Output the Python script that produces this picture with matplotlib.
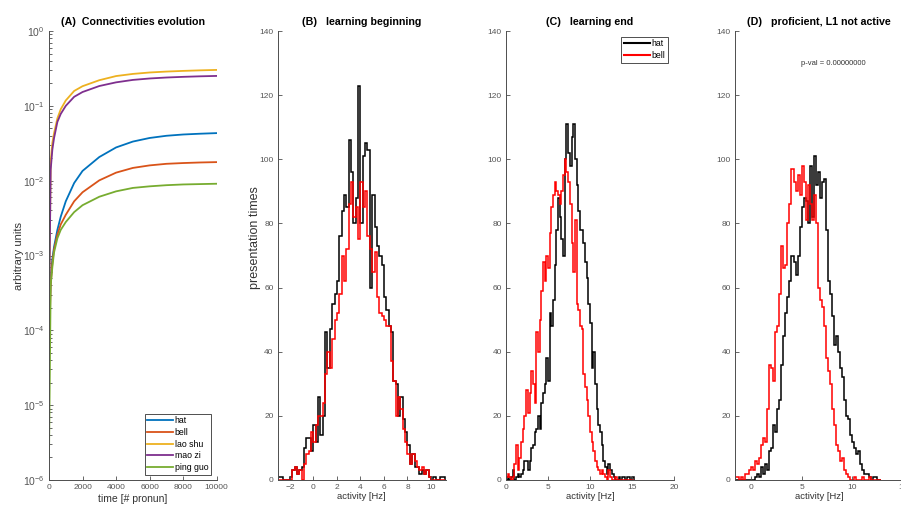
import numpy as np
import matplotlib
matplotlib.use("Agg")
import matplotlib.pyplot as plt

plt.rcParams["font.family"] = ["Liberation Sans", "DejaVu Sans"]

# ---- panel A: connectivity over time ----
time_pts = [0, 100, 200, 300, 500, 700, 1000, 1500, 2000, 3000, 4000,
            5000, 6000, 7000, 8000, 9000, 10000]
hat_conn = [8e-5, 5e-4, 9e-4, 1.3e-3, 2.2e-3, 3.3e-3, 5.3e-3, 9.3e-3, 1.35e-2,
            2.07e-2, 2.78e-2, 3.33e-2, 3.72e-2, 3.98e-2, 4.14e-2, 4.24e-2, 4.32e-2]
bell_conn = [6e-5, 4e-4, 8e-4, 1.2e-3, 1.9e-3, 2.6e-3, 3.5e-3, 5.3e-3, 7.0e-3,
             1.01e-2, 1.28e-2, 1.48e-2, 1.60e-2, 1.68e-2, 1.72e-2, 1.75e-2, 1.77e-2]
laoshu_conn = [1.2e-4, 1.8e-2, 3.2e-2, 4.3e-2, 6.8e-2, 9.0e-2, 0.118, 0.158, 0.183,
               0.220, 0.250, 0.267, 0.279, 0.287, 0.293, 0.298, 0.302]
maozi_conn = [1.5e-4, 1.4e-2, 2.6e-2, 3.7e-2, 6.1e-2, 7.8e-2, 0.100, 0.132, 0.153,
              0.184, 0.206, 0.222, 0.232, 0.239, 0.244, 0.248, 0.251]
pingguo_conn = [2e-6, 4e-4, 7e-4, 1.1e-3, 1.7e-3, 2.2e-3, 2.8e-3, 3.8e-3, 4.7e-3,
                6.1e-3, 7.2e-3, 8.0e-3, 8.4e-3, 8.7e-3, 8.9e-3, 9.0e-3, 9.1e-3]
word_names = ["hat", "bell", "lao shu", "mao zi", "ping guo"]

# ---- histograms (0.2 Hz bins) ----
bin_width = 0.2

b_start = -3.0
b_hat = [1, 1, 0, 0, 0, 1, 3, 4, 2, 3, 4, 10, 13, 13, 9, 17, 12, 26, 14, 20,
         46, 35, 47, 55, 58, 62, 76, 84, 89, 85, 106, 96, 80, 88, 123, 80, 101, 105, 103, 60,
         89, 79, 73, 70, 67, 57, 53, 48, 46, 31, 30, 20, 26, 19, 15, 11, 5, 8, 4, 4,
         2, 3, 2, 3, 1, 0, 1, 0, 0, 1, 1]
b_bell = [0, 0, 0, 0, 0, 0, 3, 4, 2, 3, 0, 5, 8, 9, 15, 12, 17, 20, 20, 24,
          33, 40, 35, 44, 50, 52, 58, 70, 62, 72, 86, 93, 82, 85, 75, 93, 85, 90, 76, 72,
          65, 71, 57, 52, 51, 50, 48, 48, 37, 31, 20, 26, 22, 16, 12, 8, 5, 8, 6, 4,
          3, 4, 2, 3, 1, 0, 0, 0, 0, 0, 0]

c_start = 0.0
c_hat = [0, 1, 0, 1, 3, 0, 1, 2, 1, 2, 3, 6, 6, 3, 6, 10, 11, 15, 16, 20,
         16, 24, 27, 30, 38, 31, 52, 48, 56, 67, 78, 88, 82, 75, 70, 100, 111, 102, 98, 107,
         111, 100, 92, 84, 78, 78, 74, 68, 63, 55, 49, 35, 40, 30, 22, 17, 15, 11, 6, 4,
         2, 5, 3, 2, 1, 0, 0, 1, 0, 1, 1, 0, 1, 1, 0, 1]
c_bell = [1, 2, 1, 0, 1, 5, 11, 3, 7, 12, 16, 20, 28, 21, 27, 34, 30, 24, 46, 40,
          50, 59, 68, 62, 70, 66, 77, 85, 89, 93, 90, 89, 86, 90, 95, 100, 96, 93, 86, 74,
          65, 81, 55, 53, 48, 47, 33, 29, 25, 20, 15, 12, 9, 6, 4, 3, 2, 3, 2, 1,
          0, 3, 1, 0, 0, 1, 0, 0, 0, 0, 0, 0, 0, 0, 0, 0]

d_start = -1.6
d_hat = [0, 0, 0, 0, 0, 0, 0, 0, 0, 0, 1, 2, 1, 4, 2, 5, 3, 9, 10, 17,
         15, 22, 25, 36, 45, 52, 57, 62, 70, 68, 64, 70, 79, 85, 88, 87, 80, 98, 82, 101,
         92, 96, 88, 93, 94, 78, 62, 58, 51, 42, 45, 40, 35, 32, 25, 20, 19, 14, 12, 10,
         8, 9, 5, 3, 2, 2, 1, 0, 1, 1, 0, 0]
d_bell = [1, 1, 0, 1, 0, 2, 2, 3, 4, 3, 6, 5, 7, 11, 13, 12, 22, 36, 35, 31,
          46, 48, 58, 73, 66, 67, 80, 86, 97, 93, 90, 95, 89, 98, 93, 81, 92, 86, 81, 89,
          80, 60, 56, 54, 48, 38, 34, 30, 22, 17, 11, 9, 6, 7, 3, 2, 1, 0, 0, 1,
          0, 0, 0, 1, 0, 0, 1, 0, 0, 0, 0, 0]

W, H = 901, 509
fig = plt.figure(figsize=(W / 100, H / 100), dpi=100)


def px_axes(left, top, width, height):
    return fig.add_axes([left / W, 1 - (top + height) / H, width / W, height / H])


def style(ax):
    for s in ["top", "right"]:
        ax.spines[s].set_visible(False)
    for s in ["left", "bottom"]:
        ax.spines[s].set_color("#4d4d4d")
        ax.spines[s].set_linewidth(0.7)
    ax.tick_params(which="both", direction="in", colors="#4d4d4d",
                   labelcolor="#555555", labelsize=6, width=0.6, pad=3)
    ax.tick_params(which="major", length=3)
    ax.tick_params(which="minor", length=1.8)


def edges(start, n):
    return np.round(start + bin_width * np.arange(n + 1), 2)


title_kw = dict(fontsize=7.7, fontweight="bold", pad=4)

# panel A
axA = px_axes(49, 31, 167.7, 449)
colors = ["#0072BD", "#D95319", "#EDB120", "#7E2F8E", "#77AC30"]
for vals, name, c in zip([hat_conn, bell_conn, laoshu_conn, maozi_conn, pingguo_conn],
                         word_names, colors):
    axA.plot(time_pts, vals, color=c, lw=1.3, label=name)
axA.set_yscale("log")
axA.set_ylim(1e-6, 1)
axA.set_xlim(0, 10000)
axA.set_xticks(range(0, 10001, 2000))
style(axA)
axA.tick_params(axis="y", labelsize=7.5)
axA.set_title("(A)  Connectivities evolution", **title_kw)
axA.set_xlabel("time [# pronun]", fontsize=7.5, color="#333333")
axA.xaxis.set_label_coords(0.5, -0.031)
axA.set_ylabel("arbitrary units", fontsize=8, color="#333333")
axA.yaxis.set_label_coords(-0.15, 0.5)
leg = axA.legend(loc="lower right", bbox_to_anchor=(0.965, 0.012), fontsize=6.3,
                 handlelength=2.9, handletextpad=0.2, labelspacing=0.3,
                 borderpad=0.3, borderaxespad=0, fancybox=False, framealpha=1,
                 edgecolor="#333333")
leg.get_frame().set_linewidth(0.6)

# histogram panels
panels = [
    (277.7, "(B)   learning beginning", b_start, b_hat, b_bell, (-3.03, 11.25), range(-2, 11, 2)),
    (506, "(C)   learning end", c_start, c_hat, c_bell, (0, 20), range(0, 21, 5)),
    (735, "(D)   proficient, L1 not active", d_start, d_hat, d_bell, (-1.57, 15.0), range(0, 16, 5)),
]
hist_axes = []
for left, title, start, hat, bell, xlim, xt in panels:
    ax = px_axes(left, 31, 168, 449)
    ax.stairs(hat, edges(start, len(hat)), color="black", lw=1.1, baseline=0, label="hat")
    ax.stairs(bell, edges(start, len(bell)), color="#ff0000", lw=1.1, baseline=0, label="bell")
    ax.set_xlim(*xlim)
    ax.set_ylim(0, 140)
    ax.set_xticks(list(xt))
    ax.set_yticks(range(0, 141, 20))
    style(ax)
    ax.set_title(title, **title_kw)
    ax.set_xlabel("activity [Hz]", fontsize=6.8, color="#333333")
    ax.xaxis.set_label_coords(0.5, -0.026)
    hist_axes.append(ax)

axB, axC, axD = hist_axes
axB.set_ylabel("presentation times", fontsize=9, color="#333333")
axB.yaxis.set_label_coords(-0.1, 0.54)

legC = axC.legend(loc="upper right", bbox_to_anchor=(0.964, 0.987), fontsize=6.3,
                  handlelength=3.0, handletextpad=0.2, labelspacing=0.3,
                  borderpad=0.3, borderaxespad=0, fancybox=False, framealpha=1,
                  edgecolor="#333333")
legC.get_frame().set_linewidth(0.6)
for h in legC.legend_handles:
    h.set_linewidth(1.5)

axD.text(4.95, 130, "p-val = 0.00000000", fontsize=5.5, va="center", color="#333333")

fig.savefig("out.png", dpi=100)
